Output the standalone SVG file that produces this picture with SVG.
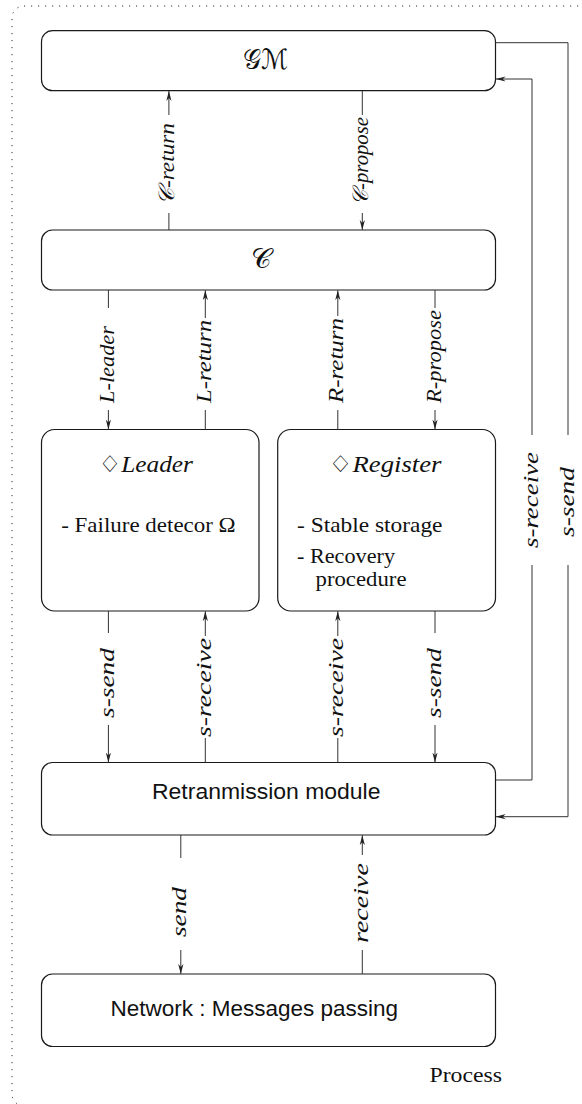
<svg xmlns="http://www.w3.org/2000/svg" width="582" height="1104" viewBox="0 0 582 1104">
<style>
.frame{fill:none;stroke:#333;stroke-width:1;stroke-dasharray:1.2 5.8}
.box{fill:#fff;stroke:#1a1a1a;stroke-width:1.2}
.ln{fill:none;stroke:#333;stroke-width:1}
.lbl{font-family:"Liberation Serif",serif;font-style:italic;font-size:22px;fill:#111}
.sans{font-family:"Liberation Sans",sans-serif;font-size:22px;fill:#111}
.serif{font-family:"Liberation Serif",serif;font-size:21px;fill:#111}
.ital{font-family:"Liberation Serif",serif;font-style:italic;font-size:23px;fill:#111}
.cal{font-family:"DejaVu Serif","DejaVu Sans",serif;font-style:normal;font-size:28px;fill:#111}
.dia{font-family:"DejaVu Sans",sans-serif;font-style:normal}
</style>
<defs>
<marker id="ah" markerUnits="userSpaceOnUse" markerWidth="12" markerHeight="8" refX="10" refY="3" orient="auto">
<path d="M10,3 L0,0.4 L3,3 L0,5.6 Z" fill="#222"/>
</marker>
</defs>
<rect class="frame" x="12" y="6" width="580" height="1100" rx="12"/>

<g id="gm"><rect class="box" x="41.5" y="30.7" width="454" height="60" rx="11"/>
<text class="cal" x="265.7" y="69" text-anchor="middle" textLength="45" lengthAdjust="spacingAndGlyphs">𝒢ℳ</text></g>
<g id="c"><rect class="box" x="41.5" y="230" width="454" height="60" rx="11"/>
<text class="cal" x="261" y="268" text-anchor="middle">𝒞</text></g>
<g id="leader"><rect class="box" x="41.5" y="429.5" width="217.5" height="181.5" rx="13"/>
<text class="ital" x="145.7" y="471.7" text-anchor="middle" textLength="94.6" lengthAdjust="spacingAndGlyphs"><tspan class="dia">♢</tspan>Leader</text>
<text class="serif" x="61.2" y="532" textLength="174.5" lengthAdjust="spacingAndGlyphs">- Failure detecor Ω</text></g>
<g id="register"><rect class="box" x="277.7" y="429.5" width="217.8" height="181.5" rx="13"/>
<text class="ital" x="385" y="471.7" text-anchor="middle" textLength="113" lengthAdjust="spacingAndGlyphs"><tspan class="dia">♢</tspan>Register</text>
<text class="serif" x="297" y="531.7" textLength="145.5" lengthAdjust="spacingAndGlyphs">- Stable storage</text>
<text class="serif" x="297" y="563.3" textLength="98" lengthAdjust="spacingAndGlyphs">- Recovery</text>
<text class="serif" x="315.5" y="585.7" textLength="91" lengthAdjust="spacingAndGlyphs">procedure</text></g>
<g id="retrans"><rect class="box" x="41.5" y="762.5" width="454" height="72.5" rx="11"/>
<text class="sans" x="152" y="799.3" textLength="228.5" lengthAdjust="spacingAndGlyphs">Retranmission module</text></g>
<g id="network"><rect class="box" x="41.5" y="974" width="454" height="72.5" rx="11"/>
<text class="sans" x="110.6" y="1015.7" textLength="287.5" lengthAdjust="spacingAndGlyphs">Network : Messages passing</text></g>
<g id="process"><text class="serif" x="429.5" y="1082" textLength="72.5" lengthAdjust="spacingAndGlyphs">Process</text></g>

<g id="connectors">
<path class="ln" d="M168.9,230 V213"/><path class="ln" d="M168.9,115 V91" marker-end="url(#ah)"/>
<path class="ln" d="M362.3,91 V115"/><path class="ln" d="M362.3,213 V230" marker-end="url(#ah)"/>
<path class="ln" d="M108.4,290 V308"/><path class="ln" d="M108.4,410 V429.5" marker-end="url(#ah)"/>
<path class="ln" d="M205.3,318 V290.2" marker-end="url(#ah)"/><path class="ln" d="M205.3,429.5 V410"/>
<path class="ln" d="M337.8,316 V290.2" marker-end="url(#ah)"/><path class="ln" d="M337.8,429.5 V410"/>
<path class="ln" d="M435,290 V308"/><path class="ln" d="M435,410 V429.5" marker-end="url(#ah)"/>
<path class="ln" d="M108.4,611 V633"/><path class="ln" d="M108.4,725 V762.5" marker-end="url(#ah)"/>
<path class="ln" d="M205.3,636 V611.2" marker-end="url(#ah)"/><path class="ln" d="M205.3,762.5 V738"/>
<path class="ln" d="M337.8,636 V611.2" marker-end="url(#ah)"/><path class="ln" d="M337.8,762.5 V738"/>
<path class="ln" d="M435,611 V633"/><path class="ln" d="M435,725 V762.5" marker-end="url(#ah)"/>
<path class="ln" d="M180.8,835 V858"/><path class="ln" d="M180.8,950 V974" marker-end="url(#ah)"/>
<path class="ln" d="M362.3,855 V835.2" marker-end="url(#ah)"/><path class="ln" d="M362.3,974 V950"/>
<path class="ln" d="M495.5,780 H532 V565"/><path class="ln" d="M532,435 V79 H495.7" marker-end="url(#ah)"/>
<path class="ln" d="M495.5,42.7 H568 V435"/><path class="ln" d="M568,565 V816.7 H495.7" marker-end="url(#ah)"/>

<text class="lbl" transform="translate(174.4,164) rotate(-90)" text-anchor="middle" textLength="82" lengthAdjust="spacingAndGlyphs">𝒞-return</text>
<text class="lbl" transform="translate(367.8,161) rotate(-90)" text-anchor="middle" textLength="88" lengthAdjust="spacingAndGlyphs">𝒞-propose</text>
<text class="lbl" transform="translate(113.9,364.5) rotate(-90)" text-anchor="middle" textLength="77" lengthAdjust="spacingAndGlyphs">L-leader</text>
<text class="lbl" transform="translate(210.8,361.5) rotate(-90)" text-anchor="middle" textLength="83" lengthAdjust="spacingAndGlyphs">L-return</text>
<text class="lbl" transform="translate(343.3,360.5) rotate(-90)" text-anchor="middle" textLength="85" lengthAdjust="spacingAndGlyphs">R-return</text>
<text class="lbl" transform="translate(440.5,356.5) rotate(-90)" text-anchor="middle" textLength="93" lengthAdjust="spacingAndGlyphs">R-propose</text>
<text class="lbl" transform="translate(113.9,683) rotate(-90)" text-anchor="middle" textLength="70" lengthAdjust="spacingAndGlyphs">s-send</text>
<text class="lbl" transform="translate(210.8,687.5) rotate(-90)" text-anchor="middle" textLength="99" lengthAdjust="spacingAndGlyphs">s-receive</text>
<text class="lbl" transform="translate(343.3,687.5) rotate(-90)" text-anchor="middle" textLength="99" lengthAdjust="spacingAndGlyphs">s-receive</text>
<text class="lbl" transform="translate(440.5,683) rotate(-90)" text-anchor="middle" textLength="70" lengthAdjust="spacingAndGlyphs">s-send</text>
<text class="lbl" transform="translate(186.3,912) rotate(-90)" text-anchor="middle" textLength="50" lengthAdjust="spacingAndGlyphs">send</text>
<text class="lbl" transform="translate(367.8,903) rotate(-90)" text-anchor="middle" textLength="80" lengthAdjust="spacingAndGlyphs">receive</text>
<text class="lbl" transform="translate(537.5,500) rotate(-90)" text-anchor="middle" textLength="96" lengthAdjust="spacingAndGlyphs">s-receive</text>
<text class="lbl" transform="translate(573.5,502) rotate(-90)" text-anchor="middle" textLength="70" lengthAdjust="spacingAndGlyphs">s-send</text>
</g>
</svg>
